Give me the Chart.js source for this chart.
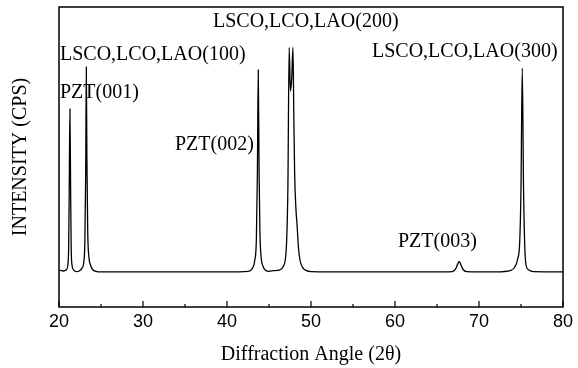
<!DOCTYPE html>
<html>
<head>
<meta charset="utf-8">
<script src="https://cdn.jsdelivr.net/npm/chart.js@4/dist/chart.umd.min.js"></script>
<style>
html,body{margin:0;padding:0;background:#fff;}
#wrap{width:578px;height:368px;position:relative;}
</style>
</head>
<body>
<div id="wrap"><canvas id="c" width="578" height="368"></canvas></div>
<script>
// 2-theta positions (degrees) and intensity (arbitrary, 0-100 of frame height)
const twoTheta = [20.05,20.5,20.9,21.05,21.15,21.22,21.3,21.38,21.45,21.55,21.75,22.1,22.4,22.7,22.95,23.08,23.18,23.25,23.32,23.42,23.55,23.75,24.0,24.4,25,30,35,40,42.5,43.0,43.3,43.5,43.62,43.72,43.82,43.92,44.05,44.3,44.6,45.0,45.5,46.3,46.7,46.95,47.1,47.25,47.4,47.55,47.7,47.85,47.95,48.05,48.2,48.35,48.5,48.7,49.0,49.4,50,55,60,65,66.8,67.2,67.45,67.65,67.85,68.1,68.5,72,73.8,74.3,74.6,74.85,75.0,75.15,75.3,75.45,75.6,75.9,76.5,80];
const intensity = [12.3,12.0,12.5,14,20,40,66,40,20,14,12.3,11.8,12.0,12.8,15,22,45,80,50,25,17,14,12.5,11.9,11.7,11.7,11.7,11.7,11.9,12.8,15.5,23,45,79,45,25,17,13.5,12.2,11.9,12.1,12.4,13.5,16,22,40,86.5,72,76,86.5,65,45,33,27,20,15.5,13.2,12.2,11.8,11.7,11.7,11.7,11.8,12.6,14.2,15.2,14.0,12.5,11.8,11.7,12.2,13.5,16,22,40,79.6,40,20,14,12.4,11.8,11.7];
const xTickLabels = ['20','30','40','50','60','70','80'];
const xMajorTicks = [20,30,40,50,60,70,80];
const xMinorTicks = [25,35,45,55,65,75];
const peakLabels = ['LSCO,LCO,LAO(100)','PZT(001)','PZT(002)','LSCO,LCO,LAO(200)','PZT(003)','LSCO,LCO,LAO(300)'];
const xTitle = 'Diffraction Angle (2\u03b8)';
const yTitle = 'INTENSITY (CPS)';

const points = twoTheta.map((x,i)=>({x:x,y:intensity[i]}));

const decor = {
  id:'decor',
  afterDraw(chart){
    const ctx = chart.ctx, a = chart.chartArea;
    const xs = chart.scales.x;
    ctx.save();
    // frame
    ctx.strokeStyle = '#000';
    ctx.lineWidth = 1.5;
    ctx.strokeRect(a.left, a.top, a.right-a.left, a.bottom-a.top);
    // inward ticks on bottom axis
    ctx.lineWidth = 1.2;
    ctx.beginPath();
    xMajorTicks.forEach(v=>{const px=xs.getPixelForValue(v); ctx.moveTo(px,a.bottom); ctx.lineTo(px,a.bottom-6);});
    xMinorTicks.forEach(v=>{const px=xs.getPixelForValue(v); ctx.moveTo(px,a.bottom); ctx.lineTo(px,a.bottom-3);});
    ctx.stroke();
    // tick labels
    ctx.fillStyle = '#000';
    ctx.font = '18px "Liberation Sans", Arial, sans-serif';
    ctx.textAlign = 'center';
    ctx.textBaseline = 'middle';
    xMajorTicks.forEach((v,i)=>{ctx.fillText(xTickLabels[i], xs.getPixelForValue(v), a.bottom+15);});
    // axis titles
    ctx.font = '20px "Liberation Serif", "Times New Roman", serif';
    ctx.fillText(xTitle, (a.left+a.right)/2, 355);
    ctx.save();
    ctx.translate(21, 157);
    ctx.rotate(-Math.PI/2);
    ctx.fillText(yTitle, 0, 0);
    ctx.restore();
    // peak labels
    ctx.textAlign = 'left';
    const pos = [[60,55],[60,93],[175,145],[213,22],[398,242],[372,52]];
    peakLabels.forEach((t,i)=>{ctx.fillText(t, pos[i][0], pos[i][1]);});
    ctx.restore();
  }
};

new Chart(document.getElementById('c'), {
  type:'line',
  data:{datasets:[{data:points,borderColor:'#000',borderWidth:1.3,pointRadius:0,fill:false,cubicInterpolationMode:'monotone'}]},
  options:{
    responsive:false,
    animation:false,
    layout:{padding:{left:59,top:7,right:15,bottom:61}},
    plugins:{legend:{display:false},tooltip:{enabled:false}},
    scales:{
      x:{type:'linear',min:20,max:80,display:false},
      y:{type:'linear',min:0,max:100,display:false}
    }
  },
  plugins:[decor]
});
</script>
</body>
</html>
